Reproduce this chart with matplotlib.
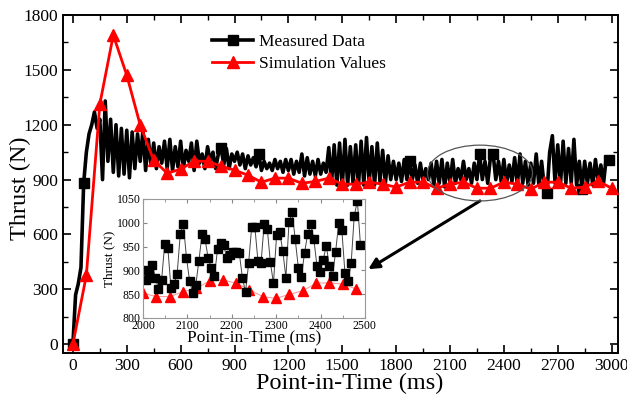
import numpy as np
import matplotlib
matplotlib.use("Agg")
import matplotlib.pyplot as plt
from matplotlib.patches import Ellipse

plt.rcParams['font.family'] = ['Liberation Serif', 'DejaVu Serif']

# --- datos ---------------------------------------------------------------
# medido, un valor cada 15 ms desde 0 hasta 3000 ms
measured = [
    0, 270, 330, 420, 880, 1050, 1150, 1200, 1270, 1180,
    1230, 900, 1330, 1000, 1230, 940, 1200, 920, 1180, 930,
    1170, 910, 1160, 960, 1150, 1000, 1170, 950, 1120, 980,
    1100, 960, 1080, 990, 1110, 960, 1120, 950, 1080, 970,
    1110, 960, 1060, 1000, 1100, 950, 1110, 990, 1040, 960,
    1080, 1000, 1050, 960, 1040, 1075, 980, 1070, 960, 1040,
    1000, 1050, 980, 1040, 960, 1030, 980, 1020, 970, 1040,
    950, 1000, 960, 990, 950, 1010, 960, 1000, 940, 1010,
    950, 1010, 930, 1000, 940, 1040, 920, 1020, 930, 1000,
    920, 1010, 930, 990, 940, 1075, 880, 1090, 870, 1100,
    860, 1120, 870, 1080, 880, 1090, 860, 1110, 870, 1130,
    880, 1080, 870, 1100, 890, 1060, 880, 1030, 900, 1000,
    900, 990, 890, 1010, 900, 1000, 900, 980, 880, 990,
    890, 960, 900, 990, 870, 1000, 880, 1010, 860, 990,
    880, 1010, 880, 960, 900, 1000, 900, 960, 880, 990,
    900, 1040, 900, 1000, 880, 1020, 1040, 900, 1000, 890,
    1010, 880, 980, 890, 1020, 870, 1040, 880, 1000, 870,
    990, 880, 1040, 870, 1000, 860, 825, 1050, 1140, 880,
    1090, 870, 1110, 880, 1070, 880, 1120, 870, 1000, 850,
    1000, 880, 990, 870, 1010, 890, 980, 880, 1020, 1005,
    1000,
]
t_measured = np.arange(len(measured)) * 15
# instantes donde se ven los cuadrados
square_times = [0, 60, 825, 1035, 1875, 2265, 2340, 2640, 2835, 2985]

# simulacion, cada 75 ms
simulation = [
    0, 377, 1313, 1690, 1471, 1198, 1006, 935, 957, 1001,
    1000, 974, 952, 924, 886, 908, 908, 880, 890, 908,
    875, 875, 886, 875, 859, 886, 886, 853, 875, 886,
    853, 853, 886, 875, 848, 886, 886, 853, 859, 892,
    853,
]
t_simulation = np.arange(len(simulation)) * 75

# zoom 2000-2500 ms
zoom_measured = [
    901, 880, 894, 911, 885, 860, 880, 955, 948, 864,
    871, 892, 976, 997, 927, 878, 852, 869, 920, 976,
    965, 925, 906, 888, 944, 957, 953, 925, 932, 939,
    938, 936, 885, 854, 915, 992, 992, 920, 916, 997,
    988, 917, 873, 974, 980, 941, 885, 1001, 1023, 965,
    906, 887, 937, 976, 997, 965, 909, 897, 922, 952,
    909, 888, 939, 1000, 985, 895, 878, 915, 1015, 1046,
    953,
]
t_zoom_measured = 2000 + np.arange(len(zoom_measured)) * 7
zoom_simulation = [852, 845, 845, 855, 862, 878, 880, 873, 859, 845,
                   841, 850, 857, 873, 874, 871, 861]
t_zoom_simulation = 2000 + np.arange(len(zoom_simulation)) * 30
zoom_xlim = (2000, 2500)
zoom_ylim = (800, 1050)

# --- figura --------------------------------------------------------------
fig = plt.figure(figsize=(6.27, 3.96), dpi=100)
ax = fig.add_axes([0.1005, 0.1086, 0.885, 0.8535])

idx_sq = list(np.searchsorted(t_measured, square_times))
ax.plot(t_measured, measured, color='black', lw=2.6, marker='s', ms=7.5,
        markevery=idx_sq, label='Measured Data', zorder=3)
ax.plot(t_simulation, simulation, color='red', lw=2.0, marker='^', ms=9,
        label='Simulation Values', zorder=4)

ax.set_xlim(-55, 3035)
ax.set_ylim(-48, 1800)
ax.set_xticks(np.arange(0, 3001, 300))
ax.set_xticks(np.arange(150, 3001, 300), minor=True)
ax.set_yticks(np.arange(0, 1801, 300))
ax.set_yticks(np.arange(150, 1801, 300), minor=True)
ax.tick_params(which='both', direction='in', top=True, right=True, labelsize=12.5)
ax.tick_params(which='major', length=6, width=1.2)
ax.tick_params(which='minor', length=3.5, width=1.0)
for s in ax.spines.values():
    s.set_linewidth(1.4)
ax.set_xlabel('Point-in-Time (ms)', fontsize=17.5)
ax.set_ylabel('Thrust (N)', fontsize=17.5)
ax.xaxis.set_label_coords(0.517, -0.058)
ax.yaxis.set_label_coords(-0.058, 0.488)

ax.legend(loc='upper left', bbox_to_anchor=(0.268, 0.944), frameon=False,
          fontsize=12.5, handlelength=2.4, handletextpad=0.3,
          borderpad=0, borderaxespad=0, labelspacing=0.35)

# elipse alrededor de la zona ampliada
cx = (zoom_xlim[0] + zoom_xlim[1]) / 2 + 17
cy = (zoom_ylim[0] + zoom_ylim[1]) / 2 + 11
ew = (zoom_xlim[1] - zoom_xlim[0]) * 1.17
eh = (zoom_ylim[1] - zoom_ylim[0]) * 1.22
ax.add_patch(Ellipse((cx, cy), ew, eh, fill=False, ec='#555555', lw=0.9, zorder=5))

# inset
axi = fig.add_axes([0.228, 0.197, 0.354, 0.3005])
axi.plot(t_zoom_simulation, zoom_simulation, color='#ff9a9a', lw=0.8,
         marker='^', ms=7.5, mfc='red', mec='red')
axi.plot(t_zoom_measured, zoom_measured, color='#444444', lw=0.7,
         marker='s', ms=6, mfc='black', mec='black')
axi.set_xlim(*zoom_xlim)
axi.set_ylim(*zoom_ylim)
axi.set_xticks(np.arange(2000, 2501, 100))
axi.set_xticks(np.arange(2050, 2500, 100), minor=True)
axi.set_yticks(np.arange(800, 1051, 50))
axi.tick_params(which='both', direction='in', top=True, right=True,
                labelsize=8.5, color='#888888', pad=1.5)
axi.tick_params(which='major', length=3)
axi.tick_params(which='minor', length=2)
for s in axi.spines.values():
    s.set_color('#999999')
    s.set_linewidth(0.8)
axi.set_xlabel('Point-in-Time (ms)', fontsize=12.5, labelpad=-1)
axi.set_ylabel('Thrust (N)', fontsize=9.5, labelpad=1)

# flecha de la elipse al inset
ax.annotate('', xy=(1.015, 0.41), xycoords=axi.transAxes,
            xytext=(cx, cy - eh / 2), textcoords='data',
            arrowprops=dict(arrowstyle='-|>', color='black', lw=2.2,
                            mutation_scale=16, shrinkA=0, shrinkB=0))

fig.savefig('out.png', dpi=100)
